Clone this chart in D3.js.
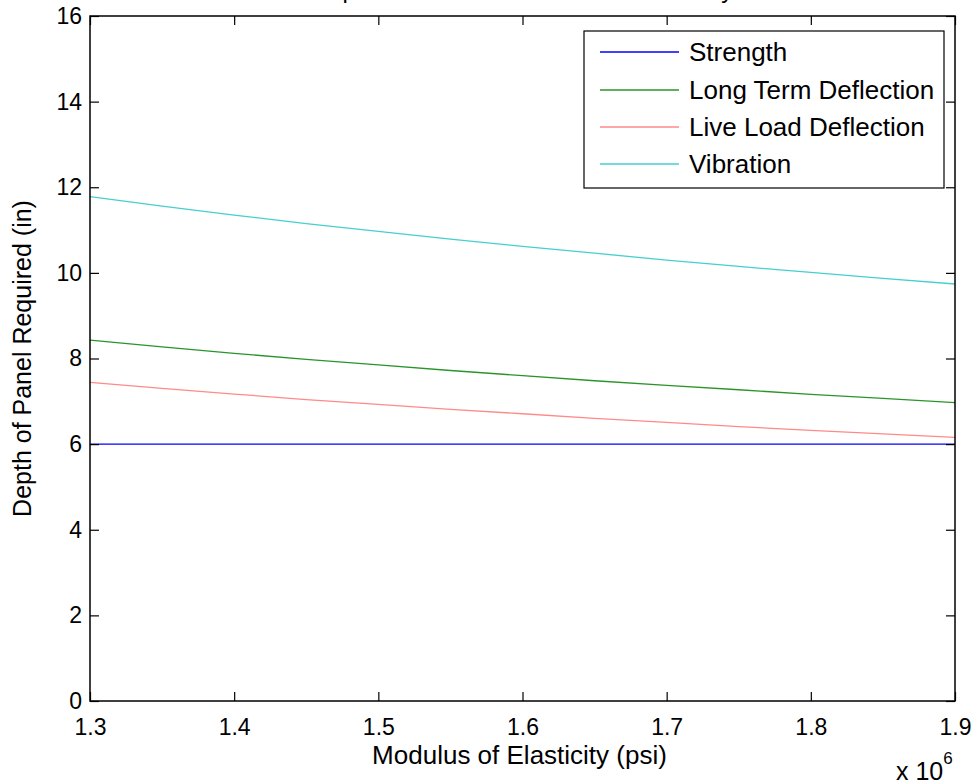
<!DOCTYPE html>
<html>
<head>
<meta charset="utf-8">
<script src="https://cdn.jsdelivr.net/npm/d3@7"></script>
<style>
  html, body { margin: 0; padding: 0; background: #fff; }
  svg { display: block; font-family: "Liberation Sans", Arial, sans-serif; }
</style>
</head>
<body>
<svg id="chart" width="976" height="784"></svg>
<script>
// Modulus of elasticity (in units of 1e6 psi)
const modulus = [1.30, 1.35, 1.40, 1.45, 1.50, 1.55, 1.60, 1.65, 1.70, 1.75, 1.80, 1.85, 1.90];

// Required panel depth (in) for each design criterion
const strength = [6.00, 6.00, 6.00, 6.00, 6.00, 6.00, 6.00, 6.00, 6.00, 6.00, 6.00, 6.00, 6.00];
const longTermDeflection = [8.43, 8.27, 8.12, 7.98, 7.85, 7.72, 7.60, 7.48, 7.37, 7.27, 7.16, 7.07, 6.97];
const liveLoadDeflection = [7.44, 7.30, 7.17, 7.04, 6.93, 6.81, 6.71, 6.60, 6.51, 6.41, 6.32, 6.24, 6.16];
const vibration = [11.78, 11.56, 11.35, 11.15, 10.97, 10.79, 10.62, 10.46, 10.30, 10.15, 10.01, 9.87, 9.74];

const seriesNames = ["Strength", "Long Term Deflection", "Live Load Deflection", "Vibration"];
const seriesValues = [strength, longTermDeflection, liveLoadDeflection, vibration];
const seriesColors = ["#0000ff", "#2a942a", "#ff8a8a", "#45cfcf"];

const xTicks = [1.3, 1.4, 1.5, 1.6, 1.7, 1.8, 1.9];
const yTicks = [0, 2, 4, 6, 8, 10, 12, 14, 16];

const titleText = "Depth of Panel vs. Modulus of Elasticity";
const xLabel = "Modulus of Elasticity (psi)";
const yLabel = "Depth of Panel Required (in)";

const svg = d3.select("#chart");
const plotLeft = 90, plotRight = 955, plotTop = 16, plotBottom = 701;

const x = d3.scaleLinear().domain([1.3, 1.9]).range([plotLeft, plotRight]);
const y = d3.scaleLinear().domain([0, 16]).range([plotBottom, plotTop]);

// Title (sits above the axes; only the descenders fall inside the figure)
svg.append("text")
  .attr("x", (plotLeft + plotRight) / 2)
  .attr("y", -2)
  .attr("text-anchor", "middle")
  .attr("font-size", 24)
  .attr("fill", "#000")
  .text(titleText);

// Data lines
const line = d3.line()
  .x((d, i) => x(modulus[i]))
  .y(d => y(d));

const plot = svg.append("g");
seriesValues.forEach((vals, k) => {
  plot.append("path")
    .datum(vals)
    .attr("fill", "none")
    .attr("stroke", seriesColors[k])
    .attr("stroke-width", 1.3)
    .attr("d", line);
});

// Axes with inward ticks (box style)
const tickLen = 9;
const fmtX = d3.format(".1f");

const gBottom = svg.append("g")
  .attr("transform", `translate(0,${plotBottom})`)
  .call(d3.axisBottom(x).tickValues(xTicks).tickFormat(fmtX)
    .tickSizeInner(-tickLen).tickSizeOuter(0).tickPadding(18));
const gTop = svg.append("g")
  .attr("transform", `translate(0,${plotTop})`)
  .call(d3.axisTop(x).tickValues(xTicks).tickFormat("")
    .tickSizeInner(-tickLen).tickSizeOuter(0));
const gLeft = svg.append("g")
  .attr("transform", `translate(${plotLeft},0)`)
  .call(d3.axisLeft(y).tickValues(yTicks).tickFormat(d3.format("d"))
    .tickSizeInner(-tickLen).tickSizeOuter(0).tickPadding(8));
const gRight = svg.append("g")
  .attr("transform", `translate(${plotRight},0)`)
  .call(d3.axisRight(y).tickValues(yTicks).tickFormat("")
    .tickSizeInner(-tickLen).tickSizeOuter(0));

[gBottom, gTop, gLeft, gRight].forEach(g => {
  g.select(".domain").remove();
  g.selectAll(".tick line").attr("stroke", "#000").attr("stroke-width", 1.2);
  g.selectAll(".tick text")
    .attr("font-family", "Liberation Sans, Arial, sans-serif")
    .attr("font-size", 23)
    .attr("fill", "#000");
});

// Axes frame
svg.append("rect")
  .attr("x", plotLeft).attr("y", plotTop)
  .attr("width", plotRight - plotLeft).attr("height", plotBottom - plotTop)
  .attr("fill", "none")
  .attr("stroke", "#000")
  .attr("stroke-width", 1.5);

// Axis labels
svg.append("text")
  .attr("x", (plotLeft + plotRight) / 2 - 3)
  .attr("y", 764)
  .attr("text-anchor", "middle")
  .attr("font-size", 26)
  .attr("fill", "#000")
  .text(xLabel);

svg.append("text")
  .attr("transform", `translate(31,${(plotTop + plotBottom) / 2}) rotate(-90)`)
  .attr("text-anchor", "middle")
  .attr("font-size", 25)
  .attr("fill", "#000")
  .text(yLabel);

// Exponent multiplier for the x axis
const mult = svg.append("text")
  .attr("x", 896)
  .attr("y", 780)
  .attr("font-size", 25)
  .attr("fill", "#000");
mult.append("tspan").text("x 10");
mult.append("tspan").attr("font-size", 17).attr("dy", -16).text("6");

// Legend
const legend = svg.append("g");
legend.append("rect")
  .attr("x", 584).attr("y", 31)
  .attr("width", 360).attr("height", 157)
  .attr("fill", "#fff")
  .attr("stroke", "#000")
  .attr("stroke-width", 1.2);

const legendRows = [52, 90, 127, 164];
seriesNames.forEach((name, k) => {
  legend.append("line")
    .attr("x1", 600).attr("x2", 679)
    .attr("y1", legendRows[k]).attr("y2", legendRows[k])
    .attr("stroke", seriesColors[k])
    .attr("stroke-width", 1.3);
  legend.append("text")
    .attr("x", 689)
    .attr("y", legendRows[k])
    .attr("dy", "0.35em")
    .attr("font-size", 26)
    .attr("fill", "#000")
    .text(name);
});
</script>
</body>
</html>
